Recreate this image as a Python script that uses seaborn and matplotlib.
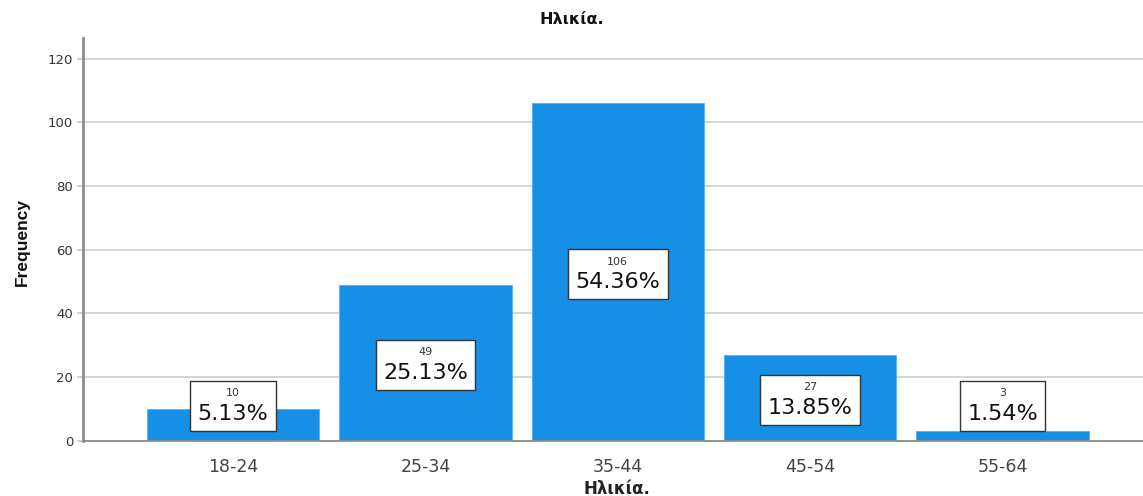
import matplotlib
matplotlib.use("Agg")
import matplotlib.pyplot as plt
from matplotlib.offsetbox import AnnotationBbox, TextArea, VPacker
import seaborn as sns
import pandas as pd

# Age groups and their frequencies
age_groups = ["18-24", "25-34", "35-44", "45-54", "55-64"]
counts = [10, 49, 106, 27, 3]
percent_labels = ["5.13%", "25.13%", "54.36%", "13.85%", "1.54%"]

df = pd.DataFrame({"age": age_groups, "count": counts})

sns.set_theme(style="white")
plt.rcParams["font.family"] = ["DejaVu Sans"]

fig = plt.figure(figsize=(11.43, 4.96), dpi=100)
ax = fig.add_axes([0.0726, 0.111, 0.9274, 0.812])

bar_color = "#1590e6"
sns.barplot(data=df, x="age", y="count", color=bar_color, saturation=1,
            width=0.895, edgecolor="#5fb0ee", linewidth=0.6, ax=ax, zorder=2)

ax.set_xlim(-0.78, 4.73)
ax.set_ylim(0, 126.4)
ax.set_yticks([0, 20, 40, 60, 80, 100, 120])
ax.yaxis.grid(True, color="#d4d4d4", linewidth=1.4, zorder=0)
ax.set_axisbelow(True)

for side in ["top", "right"]:
    ax.spines[side].set_visible(False)
ax.spines["left"].set_color("#8c8c8c")
ax.spines["left"].set_linewidth(2)
ax.spines["bottom"].set_color("#8c8c8c")
ax.spines["bottom"].set_linewidth(1.3)

ax.tick_params(axis="y", which="both", left=True, length=4, width=1.2,
               color="#c8c8c8", labelsize=9.5, labelcolor="#333333", pad=3)
ax.tick_params(axis="x", bottom=False, labelsize=12.5, labelcolor="#444444", pad=6)

ax.set_xlabel("Ηλικία.", fontsize=12, fontweight="bold", color="#222222")
ax.xaxis.set_label_coords(0.504, -0.097)
ax.set_ylabel("Frequency", fontsize=12.5, fontweight="bold", color="#111111",
              family=["Liberation Sans Narrow", "Liberation Sans", "DejaVu Sans"])
ax.yaxis.set_label_coords(-0.050, 0.494)

fig.suptitle("Ηλικία.", x=0.5, y=0.975, fontsize=11.5, fontweight="bold", color="#111111")

# Count / percentage boxes inside each bar
for i, (c, p) in enumerate(zip(counts, percent_labels)):
    yc = max(c / 2 - 0.7, 11.0)
    count_txt = TextArea(str(c), textprops=dict(fontsize=8, color="#333333"))
    pct_txt = TextArea(p, textprops=dict(fontsize=16, color="#111111"))
    packed = VPacker(children=[count_txt, pct_txt], align="center", pad=2, sep=4)
    ab = AnnotationBbox(packed, (i, yc), xycoords="data", frameon=True,
                        box_alignment=(0.5, 0.5), pad=0.3,
                        bboxprops=dict(boxstyle="square,pad=0.3", facecolor="white",
                                       edgecolor="#333333", linewidth=1.0))
    ab.set_zorder(4)
    ax.add_artist(ab)

fig.savefig("out.png", dpi=100)
